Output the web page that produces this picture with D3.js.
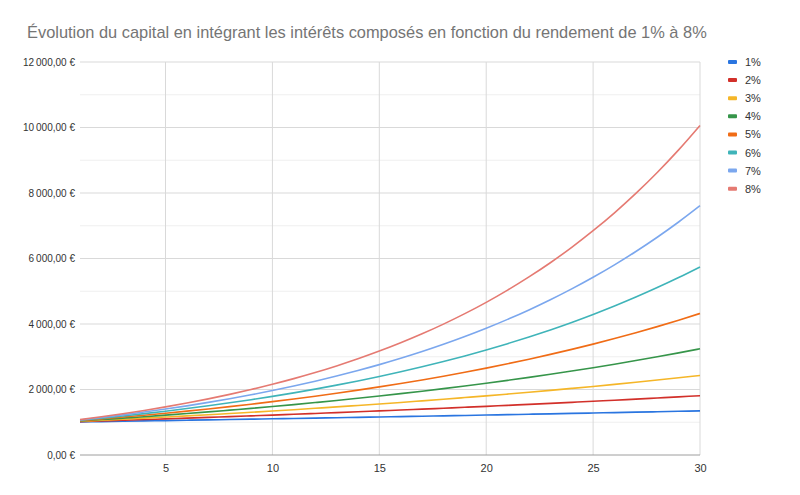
<!DOCTYPE html>
<html>
<head>
  <meta charset="utf-8">
  <title>capital</title>
  <script src="https://cdn.jsdelivr.net/npm/d3@7"></script>
  <style>
    body { margin: 0; background: #fff; }
    svg { font-family: Arial, "Liberation Sans", sans-serif; }
  </style>
</head>
<body>
<script>
// annees 1..30
const years = d3.range(1, 31);
const rates = ["1%", "2%", "3%", "4%", "5%", "6%", "7%", "8%"];
const colors = ["#2a75e0", "#d2302a", "#f5b628", "#36954a", "#f06c16", "#3fb4b9", "#7ba7ee", "#e57a72"];

const r1 = [1010,1020,1030,1041,1051,1062,1072,1083,1094,1105,1116,1127,1138,1149,1161,1173,1184,1196,1208,1220,1232,1245,1257,1270,1282,1295,1308,1321,1335,1348];
const r2 = [1020,1040,1061,1082,1104,1126,1149,1172,1195,1219,1243,1268,1294,1319,1346,1373,1400,1428,1457,1486,1516,1546,1577,1608,1641,1673,1707,1741,1776,1811];
const r3 = [1030,1061,1093,1126,1159,1194,1230,1267,1305,1344,1384,1426,1469,1513,1558,1605,1653,1702,1754,1806,1860,1916,1974,2033,2094,2157,2221,2288,2357,2427];
const r4 = [1040,1082,1125,1170,1217,1265,1316,1369,1423,1480,1539,1601,1665,1732,1801,1873,1948,2026,2107,2191,2279,2370,2465,2563,2666,2772,2883,2999,3119,3243];
const r5 = [1050,1103,1158,1216,1276,1340,1407,1477,1551,1629,1710,1796,1886,1980,2079,2183,2292,2407,2527,2653,2786,2925,3072,3225,3386,3556,3733,3920,4116,4322];
const r6 = [1060,1124,1191,1262,1338,1419,1504,1594,1689,1791,1898,2012,2133,2261,2397,2540,2693,2854,3026,3207,3400,3604,3820,4049,4292,4549,4822,5112,5418,5743];
const r7 = [1070,1145,1225,1311,1403,1501,1606,1718,1838,1967,2105,2252,2410,2579,2759,2952,3159,3380,3617,3870,4141,4430,4741,5072,5427,5807,6214,6649,7114,7612];
const r8 = [1080,1166,1260,1360,1469,1587,1714,1851,1999,2159,2332,2518,2720,2937,3172,3426,3700,3996,4316,4661,5034,5437,5871,6341,6849,7396,7988,8627,9317,10063];
const series = [r1, r2, r3, r4, r5, r6, r7, r8];

const xTicks = [5, 10, 15, 20, 25, 30];
const yTicks = [0, 2000, 4000, 6000, 8000, 10000, 12000];
const yMinor = [1000, 3000, 5000, 7000, 9000, 11000];

const W = 800, H = 495;
const margin = { top: 62, right: 100, bottom: 40, left: 80 };

const fr = d3.formatLocale({ decimal: ",", thousands: "\u202f", grouping: [3], currency: ["", "\u00a0€"] });
const fmt = fr.format("$,.2f");

const svg = d3.select("body").append("svg")
  .attr("width", W).attr("height", H);

const x = d3.scaleLinear().domain([1, 30]).range([margin.left, W - margin.right]);
const y = d3.scaleLinear().domain([0, 12000]).range([H - margin.bottom, margin.top]);

svg.append("text")
  .attr("x", 27).attr("y", 38)
  .attr("font-size", 16.4).attr("fill", "#757575")
  .text("Évolution du capital en intégrant les intérêts composés en fonction du rendement de 1% à 8%");

// grille
svg.append("g").selectAll("line").data(yMinor).join("line")
  .attr("x1", x(1)).attr("x2", x(30))
  .attr("y1", d => y(d)).attr("y2", d => y(d))
  .attr("stroke", "#efefef");
svg.append("g").selectAll("line").data(yTicks.filter(d => d > 0)).join("line")
  .attr("x1", x(1)).attr("x2", x(30))
  .attr("y1", d => y(d)).attr("y2", d => y(d))
  .attr("stroke", "#d9d9d9");
svg.append("g").selectAll("line").data(xTicks).join("line")
  .attr("x1", d => x(d)).attr("x2", d => x(d))
  .attr("y1", y(12000)).attr("y2", y(0))
  .attr("stroke", "#d9d9d9");

// axes
const yAxis = svg.append("g")
  .attr("transform", "translate(" + (margin.left - 5) + ",0)")
  .call(d3.axisLeft(y).tickValues(yTicks).tickFormat(fmt).tickSize(0).tickPadding(0));
yAxis.select(".domain").remove();
yAxis.selectAll("text").attr("font-size", 10).attr("fill", "#333").attr("font-family", "Arial, 'Liberation Sans', sans-serif");

const xAxis = svg.append("g")
  .attr("transform", "translate(0," + y(0) + ")")
  .call(d3.axisBottom(x).tickValues(xTicks).tickSize(0).tickPadding(9));
xAxis.select(".domain").remove();
xAxis.selectAll("text").attr("font-size", 11).attr("fill", "#333").attr("font-family", "Arial, 'Liberation Sans', sans-serif");

svg.append("line")
  .attr("x1", x(1)).attr("x2", x(30))
  .attr("y1", y(0)).attr("y2", y(0))
  .attr("stroke", "#9e9e9e");

// courbes
const line = d3.line()
  .x((d, i) => x(years[i]))
  .y(d => y(d))
  .curve(d3.curveMonotoneX);

svg.append("g").selectAll("path").data(series).join("path")
  .attr("d", line)
  .attr("fill", "none")
  .attr("stroke", (d, i) => colors[i])
  .attr("stroke-width", 1.6);

// legende
const leg = svg.append("g").selectAll("g").data(rates).join("g")
  .attr("transform", (d, i) => "translate(728," + (62 + i * 18.1) + ")");
leg.append("rect")
  .attr("x", 0).attr("y", -2).attr("width", 9).attr("height", 4).attr("rx", 1)
  .attr("fill", (d, i) => colors[i]);
leg.append("text")
  .attr("x", 17).attr("y", 4)
  .attr("font-size", 11).attr("fill", "#333")
  .text(d => d);
</script>
</body>
</html>
